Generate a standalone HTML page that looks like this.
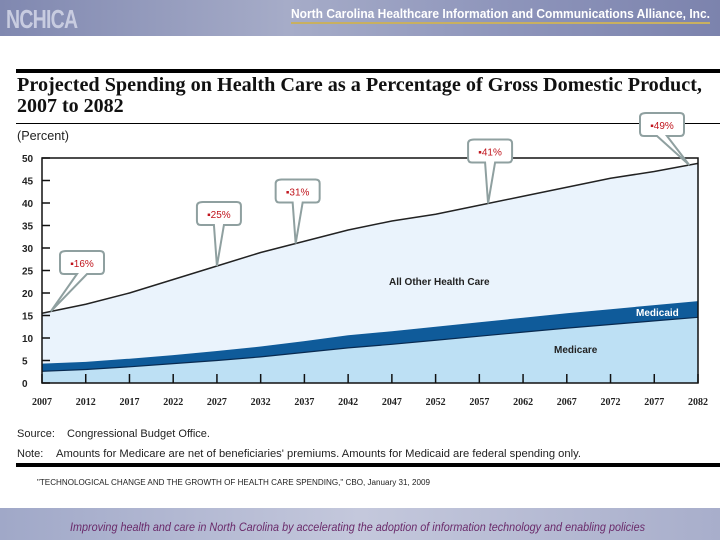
<!DOCTYPE html>
<html><head><meta charset="utf-8"><style>
body{margin:0;width:720px;height:540px;overflow:hidden;background:#fff;font-family:"Liberation Sans",sans-serif;position:relative}
.a{position:absolute}
</style></head><body>
<div class="a" style="left:0;top:0;width:720px;height:36px;background:linear-gradient(90deg,#8088b0,#a6acc8 40%,#8e95bb 70%,#7c83ad)"></div>
<div class="a" style="left:6px;top:4px;font:bold 26px 'Liberation Sans',sans-serif;color:#c8cce0;letter-spacing:-1px;transform:scaleX(.75);transform-origin:left">NCHICA</div>
<svg class="a" style="left:0;top:0" width="720" height="540">
<text x="291" y="18" textLength="419" lengthAdjust="spacingAndGlyphs" font-size="13" font-weight="bold" fill="#fff" font-family="Liberation Sans,sans-serif">North Carolina Healthcare Information and Communications Alliance, Inc.</text>
<text x="17" y="91" textLength="685" lengthAdjust="spacingAndGlyphs" font-size="20" font-weight="bold" fill="#111" font-family="Liberation Serif,serif">Projected Spending on Health Care as a Percentage of Gross Domestic Product,</text>
<text x="17" y="112" font-size="20" font-weight="bold" fill="#111" font-family="Liberation Serif,serif">2007 to 2082</text>
<text x="70" y="531" textLength="575" lengthAdjust="spacingAndGlyphs" font-size="12" font-style="italic" fill="#6a2a6a" font-family="Liberation Sans,sans-serif">Improving health and care in North Carolina by accelerating the adoption of information technology and enabling policies</text>
<text x="17" y="437" font-size="11" fill="#222" font-family="Liberation Sans,sans-serif">Source:</text>
<text x="67" y="437" textLength="143" lengthAdjust="spacingAndGlyphs" font-size="11" fill="#222" font-family="Liberation Sans,sans-serif">Congressional Budget Office.</text>
<text x="17" y="457" font-size="11" fill="#222" font-family="Liberation Sans,sans-serif">Note:</text>
<text x="56" y="457" textLength="525" lengthAdjust="spacingAndGlyphs" font-size="11" fill="#222" font-family="Liberation Sans,sans-serif">Amounts for Medicare are net of beneficiaries' premiums. Amounts for Medicaid are federal spending only.</text>
<text x="37" y="485" textLength="393" lengthAdjust="spacingAndGlyphs" font-size="8" fill="#222" font-family="Liberation Sans,sans-serif">"TECHNOLOGICAL CHANGE AND THE GROWTH OF HEALTH CARE SPENDING," CBO, January 31, 2009</text>
<text x="17" y="140" textLength="52" lengthAdjust="spacingAndGlyphs" font-size="13" fill="#222" font-family="Liberation Sans,sans-serif">(Percent)</text>
</svg>
<div class="a" style="left:291px;top:22px;width:419px;height:2px;background:#c8b060"></div>
<div class="a" style="left:16px;top:69px;width:704px;height:4px;background:#000"></div>
<div class="a" style="left:16px;top:123px;width:704px;height:1px;background:#000"></div>
<svg class="a" style="left:0;top:0" width="720" height="540" id="chart"></svg>
<div class="a" style="left:16px;top:463px;width:704px;height:4px;background:#000"></div>
<div class="a" style="left:0;top:508px;width:720px;height:32px;background:linear-gradient(90deg,#a0a8c8,#c4c8dc 50%,#a8aecb);z-index:-1"></div>
<script>
const years=[2007,2012,2017,2022,2027,2032,2037,2042,2047,2052,2057,2062,2067,2072,2077,2082];
const medicare=[2.6,3.0,3.6,4.3,5.0,5.8,6.8,7.8,8.6,9.5,10.4,11.3,12.2,13.0,13.8,14.6];
const medicaid=[1.7,1.7,1.8,1.9,2.1,2.3,2.5,2.8,2.9,3.0,3.1,3.2,3.3,3.4,3.5,3.6];
const totalSpending=[15.5,17.5,20,23,26,29,31.5,34,36,37.5,39.5,41.5,43.5,45.5,47,48.8];
const yTicks=[0,5,10,15,20,25,30,35,40,45,50];
const calloutYears=[2008,2027,2036,2058,2081];
const calloutLabels=['\u25aa16%','\u25aa25%','\u25aa31%','\u25aa41%','\u25aa49%'];
const x0=42,x1=698,y0=383,y1=158;
const X=y=>x0+(y-2007)/(2082-2007)*(x1-x0);
const Y=v=>y0-v/50*(y0-y1);
const NS='http://www.w3.org/2000/svg';
const svg=document.getElementById('chart');
function mk(t,a){const e=document.createElementNS(NS,t);for(const k in a)e.setAttribute(k,a[k]);svg.appendChild(e);return e;}
function interp(arr,yr){for(let i=0;i<years.length-1;i++){if(yr<=years[i+1]){const f=(yr-years[i])/(years[i+1]-years[i]);return arr[i]+f*(arr[i+1]-arr[i]);}}return arr[arr.length-1];}
const mc=medicaid.map((v,i)=>v+medicare[i]);
function area(top,bot){let d='';years.forEach((y,i)=>{d+=(i?'L':'M')+X(y)+','+Y(top[i]);});for(let i=years.length-1;i>=0;i--)d+='L'+X(years[i])+','+Y(bot?bot[i]:0);return d+'Z';}
let e;
e=mk('path',{d:area(totalSpending,mc),fill:'#eaf3fc'});


e=mk('path',{d:area(mc,medicare),fill:'#0f5b9a'});


e=mk('path',{d:area(medicare,null),fill:'#bde0f4'});


e=mk('polyline',{points:years.map((y,i)=>X(y)+','+Y(totalSpending[i])).join(' '),fill:'none',stroke:'#222','stroke-width':1.5});


e=mk('polyline',{points:years.map((y,i)=>X(y)+','+Y(medicare[i])).join(' '),fill:'none',stroke:'#082a50','stroke-width':1.2});


e=mk('rect',{x:x0,y:y1,width:x1-x0,height:y0-y1,fill:'none',stroke:'#111','stroke-width':1.5});


yTicks.forEach(v=>{
 e=mk('line',{x1:x0,x2:x0+8,y1:Y(v),y2:Y(v),stroke:'#111','stroke-width':1.5});
 
 
 e=mk('text',{x:22,y:Y(v)+4,'font-size':10,'font-weight':'bold','font-family':'Liberation Sans,sans-serif',fill:'#222'});
 e.textContent=v;
 
 
});
years.forEach(y=>{
 e=mk('line',{x1:X(y),x2:X(y),y1:y0,y2:y0-9,stroke:'#111','stroke-width':1.5});
 
 
 e=mk('text',{x:X(y),y:405,'text-anchor':'middle','font-size':10,'font-weight':'bold','font-family':'Liberation Serif,serif',fill:'#222'});
 e.textContent=y;
 
 
});
function lbl(t,x,y,c,n){const el=mk('text',{x:x,y:y,'font-size':10,'font-weight':'bold','font-family':'Liberation Sans,sans-serif',fill:c});el.textContent=t;}
lbl('All Other Health Care',389,285,'#222','label-all-other');
lbl('Medicare',554,353,'#222','label-medicare');
lbl('Medicaid',636,316,'#fff','label-medicaid');
calloutYears.forEach((yr,i)=>{
 const px=X(yr),py=Y(interp(totalSpending,yr));
 let bx=px-20, by=py-64;
 if(i===0){bx=60;by=251;} if(i===4){bx=640;by=113;}
 const tx=bx+21;
 e=mk('path',{d:`M${bx+6},${by} H${bx+40} Q${bx+44},${by} ${bx+44},${by+4} V${by+19} Q${bx+44},${by+23} ${bx+40},${by+23} H${tx+6} L${px},${py} L${tx-4},${by+23} H${bx+4} Q${bx},${by+23} ${bx},${by+19} V${by+4} Q${bx},${by} ${bx+6},${by}Z`,fill:'#fff',stroke:'#8fa0a0','stroke-width':2});
 
 
 e=mk('text',{x:bx+22,y:by+16,'text-anchor':'middle','font-size':10,'font-family':'Liberation Sans,sans-serif',fill:'#c0141c'});
 e.textContent=calloutLabels[i];
 
 
});
</script>
</body></html>
